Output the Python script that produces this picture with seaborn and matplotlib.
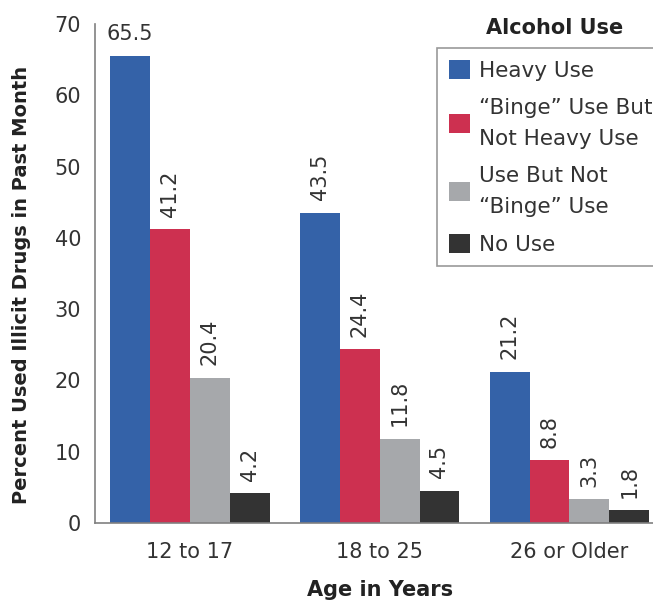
import matplotlib
matplotlib.use("Agg")
import matplotlib.pyplot as plt
import seaborn as sns
import pandas as pd

# Data
age_groups = ["12 to 17", "18 to 25", "26 or Older"]
alcohol_use = [
    "Heavy Use",
    "\u201cBinge\u201d Use But\nNot Heavy Use",
    "Use But Not\n\u201cBinge\u201d Use",
    "No Use",
]
heavy = [65.5, 43.5, 21.2]
binge = [41.2, 24.4, 8.8]
use_not_binge = [20.4, 11.8, 3.3]
no_use = [4.2, 4.5, 1.8]

colors = ["#3462a8", "#cd3050", "#a6a8ab", "#333333"]

rows = []
for series, vals in zip(alcohol_use, [heavy, binge, use_not_binge, no_use]):
    for age, v in zip(age_groups, vals):
        rows.append({"age": age, "use": series, "pct": v})
df = pd.DataFrame(rows)

sns.set_style("white")
plt.rcParams["font.family"] = ["DejaVu Sans"]

fig = plt.figure(figsize=(6.53, 6.09), dpi=100)
ax = fig.add_axes([0.1455, 0.1412, 0.8545, 0.8194])

sns.barplot(data=df, x="age", y="pct", hue="use", hue_order=alcohol_use,
            palette=colors, width=0.84, saturation=1, gap=0,
            edgecolor="none", ax=ax)

ax.set_ylim(0, 70)
ax.set_xlim(-0.5, 2.44)
ax.set_yticks(range(0, 71, 10))

# value labels
for container in ax.containers:
    for bar, val in zip(container, container.datavalues):
        x = bar.get_x() + bar.get_width() / 2
        rot = 0 if val > 60 else 90
        ax.annotate(f"{val:.1f}", (x, val), xytext=(0, 9),
                    textcoords="offset points", ha="center", va="bottom",
                    rotation=rot, fontsize=15, color="#333333")

sns.despine(ax=ax)
for side in ["left", "bottom"]:
    ax.spines[side].set_color("#808080")
    ax.spines[side].set_linewidth(1.2)

ax.tick_params(axis="y", direction="out", length=6, width=1.2, color="#808080",
               labelsize=15, labelcolor="#333333", pad=4)
ax.tick_params(axis="x", length=0, labelsize=15, labelcolor="#333333", pad=14)

ax.set_xlabel("Age in Years", fontsize=15, fontweight="bold", color="#222222")
ax.xaxis.set_label_coords(0.51, -0.115)
ax.set_ylabel("Percent Used Illicit Drugs in Past Month", fontsize=14,
              fontweight="bold", color="#222222")
ax.yaxis.set_label_coords(-0.115, 0.477)

handles, labels = ax.get_legend_handles_labels()
leg = ax.legend(handles, labels, loc="upper left",
                bbox_to_anchor=(437 / 653, 1 - 48 / 609),
                bbox_transform=fig.transFigure, frameon=True, fancybox=False,
                fontsize=15.5, handlelength=1.0, handleheight=1.0,
                handletextpad=0.4, labelspacing=0.78, borderpad=0.55,
                borderaxespad=0)
leg.get_frame().set_edgecolor("#808080")
leg.get_frame().set_linewidth(1.2)
for t in leg.get_texts():
    t.set_linespacing(1.7)
    t.set_color("#333333")

fig.text(555 / 653, 1 - 28 / 609, "Alcohol Use", ha="center", va="center",
         fontsize=15, fontweight="bold", color="#222222")

fig.savefig("out.png", dpi=100)
